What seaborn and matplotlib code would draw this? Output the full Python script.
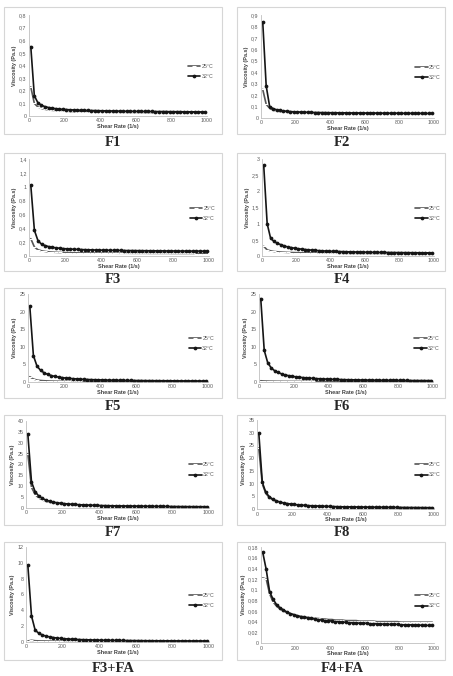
import matplotlib
matplotlib.use('Agg')
import matplotlib.pyplot as plt
from matplotlib.patches import Rectangle
from matplotlib.ticker import FuncFormatter, MultipleLocator
import seaborn as sns

# Shear rate grid (1/s)
shear_rate = [10, 30, 50, 70, 90, 110, 130, 150, 170, 190,
              210, 230, 250, 270, 290, 310, 330, 350, 370, 390,
              410, 430, 450, 470, 490, 510, 530, 550, 570, 590,
              610, 630, 650, 670, 690, 710, 730, 750, 770, 790,
              810, 830, 850, 870, 890, 910, 930, 950, 970, 990]

# Viscosity (Pa.s), 25°C and 32°C for each formulation
f1_25 = [0.23, 0.10, 0.072, 0.060, 0.053, 0.048, 0.045, 0.043, 0.041, 0.039,
         0.038, 0.037, 0.036, 0.035, 0.035, 0.034, 0.033, 0.033, 0.032, 0.032,
         0.031, 0.031, 0.031, 0.030, 0.030, 0.030, 0.030, 0.029, 0.029, 0.029,
         0.029, 0.029, 0.028, 0.028, 0.028, 0.028, 0.028, 0.028, 0.027, 0.027,
         0.027, 0.027, 0.027, 0.027, 0.027, 0.027, 0.026, 0.026, 0.026, 0.026]
f1_32 = [0.55, 0.16, 0.105, 0.085, 0.074, 0.067, 0.062, 0.058, 0.055, 0.053,
         0.051, 0.049, 0.048, 0.047, 0.046, 0.045, 0.044, 0.043, 0.043, 0.042,
         0.041, 0.041, 0.040, 0.040, 0.039, 0.039, 0.038, 0.038, 0.038, 0.037,
         0.037, 0.037, 0.036, 0.036, 0.036, 0.035, 0.035, 0.035, 0.035, 0.034,
         0.034, 0.034, 0.034, 0.033, 0.033, 0.033, 0.033, 0.033, 0.032, 0.032]

f2_25 = [0.25, 0.12, 0.085, 0.070, 0.062, 0.057, 0.054, 0.051, 0.049, 0.048,
         0.047, 0.046, 0.045, 0.044, 0.044, 0.043, 0.043, 0.042, 0.042, 0.041,
         0.041, 0.041, 0.040, 0.040, 0.040, 0.040, 0.039, 0.039, 0.039, 0.039,
         0.039, 0.038, 0.038, 0.038, 0.038, 0.038, 0.038, 0.037, 0.037, 0.037,
         0.037, 0.037, 0.037, 0.037, 0.036, 0.036, 0.036, 0.036, 0.036, 0.036]
f2_32 = [0.84, 0.28, 0.10, 0.082, 0.072, 0.066, 0.062, 0.059, 0.056, 0.054,
         0.053, 0.052, 0.051, 0.050, 0.049, 0.048, 0.048, 0.047, 0.047, 0.046,
         0.046, 0.046, 0.045, 0.045, 0.045, 0.044, 0.044, 0.044, 0.044, 0.043,
         0.043, 0.043, 0.043, 0.043, 0.042, 0.042, 0.042, 0.042, 0.042, 0.042,
         0.041, 0.041, 0.041, 0.041, 0.041, 0.041, 0.041, 0.040, 0.040, 0.040]

f3_25 = [0.25, 0.13, 0.09, 0.075, 0.066, 0.060, 0.056, 0.053, 0.051, 0.049,
         0.048, 0.047, 0.046, 0.045, 0.044, 0.044, 0.043, 0.043, 0.042, 0.042,
         0.042, 0.041, 0.041, 0.041, 0.040, 0.040, 0.040, 0.040, 0.039, 0.039,
         0.039, 0.039, 0.039, 0.038, 0.038, 0.038, 0.038, 0.038, 0.038, 0.037,
         0.037, 0.037, 0.037, 0.037, 0.037, 0.037, 0.036, 0.036, 0.036, 0.036]
f3_32 = [1.02, 0.37, 0.22, 0.17, 0.15, 0.135, 0.125, 0.118, 0.112, 0.107,
         0.103, 0.100, 0.097, 0.095, 0.093, 0.091, 0.089, 0.088, 0.086, 0.085,
         0.084, 0.083, 0.082, 0.081, 0.080, 0.080, 0.079, 0.078, 0.078, 0.077,
         0.077, 0.076, 0.076, 0.075, 0.075, 0.074, 0.074, 0.074, 0.073, 0.073,
         0.073, 0.072, 0.072, 0.072, 0.071, 0.071, 0.071, 0.071, 0.070, 0.070]

f4_25 = [0.30, 0.19, 0.16, 0.14, 0.13, 0.122, 0.116, 0.111, 0.107, 0.104,
         0.101, 0.099, 0.097, 0.095, 0.094, 0.092, 0.091, 0.090, 0.089, 0.088,
         0.087, 0.087, 0.086, 0.085, 0.085, 0.084, 0.084, 0.083, 0.083, 0.082,
         0.082, 0.082, 0.081, 0.081, 0.081, 0.080, 0.080, 0.080, 0.079, 0.079,
         0.079, 0.079, 0.078, 0.078, 0.078, 0.078, 0.077, 0.077, 0.077, 0.077]
f4_32 = [2.80, 1.00, 0.55, 0.45, 0.39, 0.35, 0.31, 0.28, 0.26, 0.24,
         0.225, 0.212, 0.200, 0.190, 0.181, 0.173, 0.166, 0.160, 0.154, 0.149,
         0.145, 0.141, 0.137, 0.134, 0.131, 0.128, 0.126, 0.123, 0.121, 0.119,
         0.117, 0.115, 0.114, 0.112, 0.111, 0.109, 0.108, 0.107, 0.106, 0.105,
         0.104, 0.103, 0.102, 0.101, 0.100, 0.099, 0.098, 0.098, 0.097, 0.096]

f5_25 = [1.50, 0.85, 0.55, 0.42, 0.35, 0.30, 0.26, 0.23, 0.21, 0.195,
         0.18, 0.17, 0.16, 0.152, 0.145, 0.139, 0.134, 0.129, 0.125, 0.121,
         0.118, 0.115, 0.112, 0.11, 0.108, 0.106, 0.104, 0.102, 0.10, 0.099,
         0.098, 0.096, 0.095, 0.094, 0.093, 0.092, 0.091, 0.09, 0.089, 0.088,
         0.088, 0.087, 0.086, 0.086, 0.085, 0.084, 0.084, 0.083, 0.083, 0.082]
f5_32 = [21.5, 7.5, 4.5, 3.3, 2.6, 2.15, 1.82, 1.58, 1.39, 1.24,
         1.12, 1.02, 0.94, 0.87, 0.81, 0.76, 0.71, 0.67, 0.64, 0.61,
         0.58, 0.55, 0.53, 0.51, 0.49, 0.47, 0.46, 0.44, 0.43, 0.42,
         0.41, 0.40, 0.39, 0.38, 0.37, 0.36, 0.355, 0.35, 0.34, 0.335,
         0.33, 0.32, 0.315, 0.31, 0.305, 0.30, 0.295, 0.29, 0.285, 0.28]

f6_25 = [0.35, 0.28, 0.25, 0.23, 0.21, 0.20, 0.19, 0.18, 0.175, 0.17,
         0.165, 0.16, 0.155, 0.15, 0.148, 0.145, 0.142, 0.14, 0.138, 0.136,
         0.134, 0.132, 0.13, 0.129, 0.128, 0.126, 0.125, 0.124, 0.123, 0.122,
         0.121, 0.12, 0.119, 0.118, 0.117, 0.116, 0.116, 0.115, 0.114, 0.114,
         0.113, 0.112, 0.112, 0.111, 0.11, 0.11, 0.109, 0.109, 0.108, 0.108]
f6_32 = [23.7, 9.0, 5.5, 4.0, 3.2, 2.7, 2.3, 2.0, 1.8, 1.62,
         1.48, 1.36, 1.26, 1.17, 1.09, 1.02, 0.96, 0.91, 0.86, 0.82,
         0.78, 0.75, 0.72, 0.69, 0.66, 0.64, 0.62, 0.60, 0.58, 0.56,
         0.55, 0.53, 0.52, 0.51, 0.50, 0.49, 0.48, 0.47, 0.46, 0.45,
         0.44, 0.435, 0.43, 0.42, 0.415, 0.41, 0.40, 0.395, 0.39, 0.385]

f7_25 = [25.0, 9.5, 6.2, 4.6, 3.7, 3.1, 2.65, 2.32, 2.07, 1.87,
         1.71, 1.58, 1.47, 1.37, 1.29, 1.22, 1.15, 1.1, 1.05, 1.0,
         0.96, 0.92, 0.89, 0.86, 0.83, 0.8, 0.78, 0.76, 0.74, 0.72,
         0.7, 0.68, 0.67, 0.65, 0.64, 0.63, 0.62, 0.6, 0.59, 0.58,
         0.57, 0.56, 0.55, 0.54, 0.54, 0.53, 0.52, 0.51, 0.51, 0.5]
f7_32 = [34.0, 12.0, 7.5, 5.5, 4.4, 3.6, 3.1, 2.7, 2.4, 2.2,
         2.0, 1.85, 1.72, 1.61, 1.51, 1.43, 1.36, 1.29, 1.23, 1.18,
         1.13, 1.09, 1.05, 1.01, 0.98, 0.95, 0.92, 0.89, 0.87, 0.85,
         0.83, 0.81, 0.79, 0.77, 0.75, 0.74, 0.72, 0.71, 0.70, 0.68,
         0.67, 0.66, 0.65, 0.64, 0.63, 0.62, 0.61, 0.60, 0.59, 0.58]

f8_25 = [24.0, 9.8, 6.1, 4.5, 3.6, 3.0, 2.58, 2.26, 2.01, 1.82,
         1.66, 1.53, 1.42, 1.33, 1.25, 1.18, 1.12, 1.06, 1.01, 0.97,
         0.93, 0.89, 0.86, 0.83, 0.8, 0.78, 0.75, 0.73, 0.71, 0.69,
         0.68, 0.66, 0.65, 0.63, 0.62, 0.61, 0.6, 0.58, 0.57, 0.56,
         0.55, 0.54, 0.53, 0.52, 0.52, 0.51, 0.5, 0.49, 0.49, 0.48]
f8_32 = [30.0, 10.5, 6.5, 4.8, 3.8, 3.2, 2.75, 2.4, 2.15, 1.95,
         1.78, 1.64, 1.52, 1.42, 1.33, 1.26, 1.19, 1.13, 1.08, 1.03,
         0.99, 0.95, 0.91, 0.88, 0.85, 0.82, 0.8, 0.77, 0.75, 0.73,
         0.71, 0.7, 0.68, 0.66, 0.65, 0.64, 0.62, 0.61, 0.6, 0.59,
         0.58, 0.57, 0.56, 0.55, 0.54, 0.53, 0.53, 0.52, 0.51, 0.5]

f3fa_25 = [0.12, 0.22, 0.16, 0.14, 0.13, 0.12, 0.115, 0.11, 0.105, 0.1,
           0.098, 0.095, 0.093, 0.091, 0.089, 0.087, 0.086, 0.085, 0.084, 0.083,
           0.082, 0.081, 0.08, 0.079, 0.078, 0.078, 0.077, 0.076, 0.076, 0.075,
           0.075, 0.074, 0.074, 0.073, 0.073, 0.072, 0.072, 0.071, 0.071, 0.07,
           0.07, 0.07, 0.069, 0.069, 0.069, 0.068, 0.068, 0.068, 0.067, 0.067]
f3fa_32 = [9.7, 3.3, 1.5, 1.1, 0.88, 0.74, 0.64, 0.56, 0.5, 0.45,
           0.41, 0.38, 0.35, 0.33, 0.31, 0.29, 0.28, 0.265, 0.25, 0.24,
           0.23, 0.22, 0.215, 0.21, 0.2, 0.195, 0.19, 0.185, 0.18, 0.175,
           0.17, 0.165, 0.162, 0.158, 0.155, 0.152, 0.149, 0.146, 0.144, 0.142,
           0.14, 0.138, 0.136, 0.134, 0.132, 0.13, 0.128, 0.127, 0.125, 0.124]

f4fa_25 = [0.122, 0.120, 0.092, 0.077, 0.069, 0.064, 0.060, 0.057, 0.055, 0.053,
           0.051, 0.050, 0.049, 0.048, 0.047, 0.046, 0.046, 0.045, 0.045, 0.044,
           0.044, 0.043, 0.043, 0.043, 0.042, 0.042, 0.042, 0.042, 0.041, 0.041,
           0.041, 0.041, 0.041, 0.040, 0.040, 0.040, 0.040, 0.040, 0.040, 0.040,
           0.039, 0.039, 0.039, 0.039, 0.039, 0.039, 0.039, 0.039, 0.039, 0.039]
f4fa_32 = [0.170, 0.138, 0.096, 0.082, 0.072, 0.066, 0.062, 0.058, 0.055, 0.053,
           0.051, 0.049, 0.048, 0.047, 0.046, 0.045, 0.044, 0.043, 0.042, 0.042,
           0.041, 0.040, 0.040, 0.039, 0.039, 0.038, 0.038, 0.038, 0.037, 0.037,
           0.037, 0.036, 0.036, 0.036, 0.036, 0.035, 0.035, 0.035, 0.035, 0.035,
           0.034, 0.034, 0.034, 0.034, 0.034, 0.034, 0.033, 0.033, 0.033, 0.033]

panel_names = ['F1', 'F2', 'F3', 'F4', 'F5', 'F6', 'F7', 'F8', 'F3+FA', 'F4+FA']
series_25 = [f1_25, f2_25, f3_25, f4_25, f5_25, f6_25, f7_25, f8_25, f3fa_25, f4fa_25]
series_32 = [f1_32, f2_32, f3_32, f4_32, f5_32, f6_32, f7_32, f8_32, f3fa_32, f4fa_32]
y_max = [0.8, 0.9, 1.4, 3, 25, 25, 40, 35, 12, 0.18]
y_step = [0.1, 0.1, 0.2, 0.5, 5, 5, 5, 5, 2, 0.02]
x_ticks = [0, 200, 400, 600, 800, 1000]

# layout in pixels (top-left origin): axes box, frame box, label position
W, H = 453, 676
axes_px = [(29, 15, 207, 116), (261, 15, 434, 118),
           (29, 159, 209, 256), (262, 159, 434, 256),
           (28, 294, 208, 382), (259, 294, 433, 382),
           (26, 421, 209, 508), (257, 420, 434, 509),
           (26, 547, 209, 642), (261, 547, 434, 643)]
frame_rows = [(7, 134), (153, 271), (288, 398), (415, 525), (542, 660)]
frame_cols = [(4, 222), (237, 445)]
label_rows = [142, 279, 407, 533, 669]
label_cols = [113, 342]

sns.set_style('white')
plt.rcParams['font.family'] = ['Liberation Sans', 'DejaVu Sans']

fig = plt.figure(figsize=(W / 100, H / 100), dpi=100)
fig.patch.set_facecolor('white')

comma_fmt = FuncFormatter(lambda v, pos: f'{v:.10g}'.replace('.', ','))

for i, name in enumerate(panel_names):
    r, c = divmod(i, 2)
    x1, y1, x2, y2 = axes_px[i]
    ax = fig.add_axes([x1 / W, 1 - y2 / H, (x2 - x1) / W, (y2 - y1) / H])

    # frame around each chart
    fx1, fx2 = frame_cols[c]
    fy1, fy2 = frame_rows[r]
    fig.patches.append(Rectangle((fx1 / W, 1 - fy2 / H), (fx2 - fx1) / W, (fy2 - fy1) / H,
                                 transform=fig.transFigure, fill=False,
                                 edgecolor='#d6d6d6', linewidth=0.8))

    sns.lineplot(x=shear_rate, y=series_25[i], ax=ax, color='#555555', linewidth=1.2,
                 marker='_', markersize=3, markeredgewidth=0.8, label='25°C')
    sns.lineplot(x=shear_rate, y=series_32[i], ax=ax, color='#151515', linewidth=1.2,
                 marker='o', markersize=2.7, markeredgewidth=0, label='32°C')

    ax.set_xlim(0, 1000)
    ax.set_ylim(0, y_max[i])
    ax.set_xticks(x_ticks)
    ax.yaxis.set_major_locator(MultipleLocator(y_step[i]))
    ax.yaxis.set_major_formatter(comma_fmt)
    ax.tick_params(axis='both', length=0, pad=1.8, labelsize=3.8, labelcolor='#595959')
    for s in ['top', 'right']:
        ax.spines[s].set_visible(False)
    for s in ['left', 'bottom']:
        ax.spines[s].set_color('#bfbfbf')
        ax.spines[s].set_linewidth(0.6)
    ax.set_xlabel('Shear Rate (1/s)', fontsize=4, fontweight='bold', color='#404040', labelpad=0.6)
    ax.set_ylabel('Viscosity (Pa.s)', fontsize=4, fontweight='bold', color='#404040', labelpad=1.5)
    ax.legend(loc='center left', bbox_to_anchor=(0.88, 0.44), frameon=False, fontsize=3.8,
              handlelength=2.4, handletextpad=0.2, labelspacing=1.0, borderaxespad=0,
              labelcolor='#595959')

    fig.text(label_cols[c] / W, 1 - label_rows[r] / H, name, ha='center', va='center',
             fontsize=10.5, fontweight='bold', family='Liberation Serif')

fig.savefig('out.png', dpi=100, facecolor='white')
